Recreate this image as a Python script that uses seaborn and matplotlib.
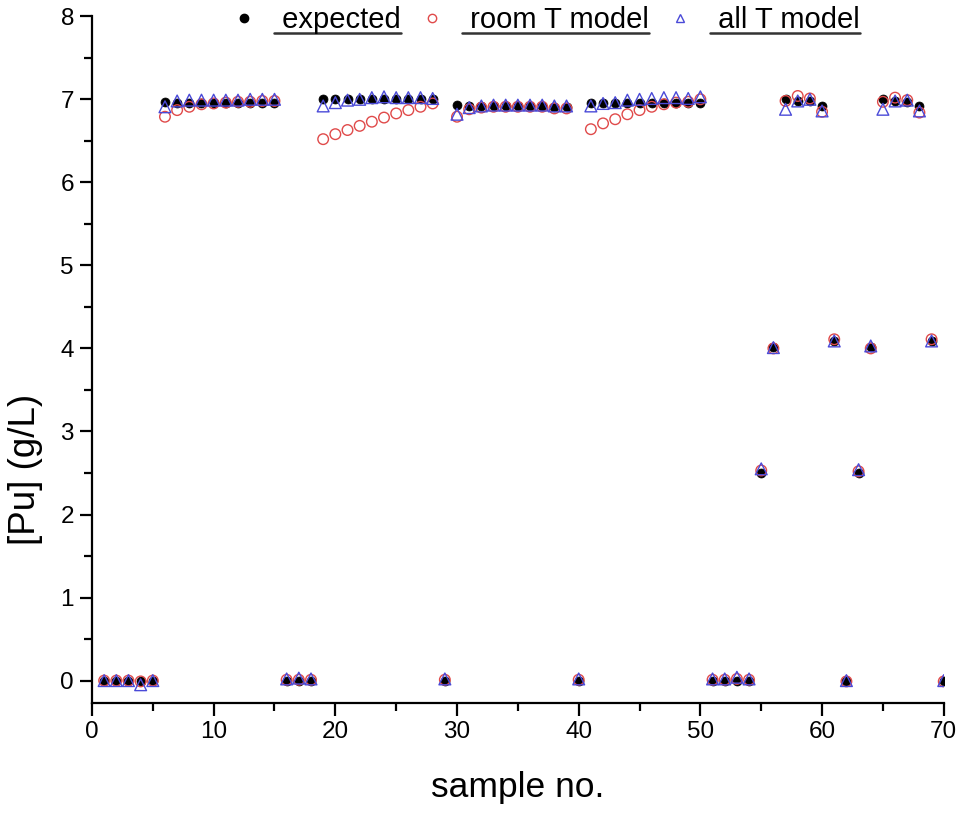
import matplotlib
matplotlib.use("Agg")
import matplotlib.pyplot as plt
from matplotlib.lines import Line2D
import seaborn as sns
import pandas as pd

sample_no = list(range(1, 71))

expected = [0, 0, 0, 0, 0,
            6.97, 6.96, 6.96, 6.96, 6.96, 6.96, 6.96, 6.96, 6.96, 6.96,
            0, 0, 0,
            7.00, 7.00, 7.00, 7.00, 7.00, 7.00, 7.00, 7.00, 7.00, 7.00,
            0,
            6.93, 6.92, 6.92, 6.92, 6.92, 6.92, 6.92, 6.92, 6.91, 6.91,
            0,
            6.95, 6.95, 6.95, 6.95, 6.95, 6.95, 6.95, 6.95, 6.95, 6.95,
            0, 0, 0, 0,
            2.50, 4.02, 7.00, 6.98, 6.98, 6.92, 4.09, 0, 2.50, 4.02,
            7.00, 6.98, 6.97, 6.92, 4.09, 0]

room_t_model = [0, 0, 0, -0.01, 0,
                6.79, 6.87, 6.91, 6.94, 6.95, 6.96, 6.97, 6.97, 6.98, 6.98,
                0.01, 0.01, 0.01,
                6.52, 6.58, 6.63, 6.68, 6.73, 6.78, 6.83, 6.87, 6.91, 6.95,
                0.01,
                6.79, 6.88, 6.90, 6.91, 6.91, 6.91, 6.91, 6.91, 6.89, 6.89,
                0.01,
                6.64, 6.71, 6.76, 6.82, 6.87, 6.91, 6.94, 6.96, 6.97, 7.00,
                0.01, 0.01, 0.02, 0.01,
                2.53, 4.00, 6.98, 7.04, 7.01, 6.85, 4.11, -0.01, 2.52, 4.00,
                6.97, 7.02, 6.99, 6.84, 4.11, -0.01]

all_t_model = [0, 0, 0, -0.05, 0,
               6.91, 6.98, 6.99, 6.99, 6.99, 6.99, 6.99, 7.00, 7.00, 7.00,
               0.02, 0.03, 0.02,
               6.92, 6.96, 6.99, 7.00, 7.02, 7.03, 7.02, 7.02, 7.02, 7.01,
               0.02,
               6.82, 6.90, 6.92, 6.93, 6.93, 6.93, 6.93, 6.93, 6.92, 6.92,
               0.02,
               6.92, 6.95, 6.96, 6.99, 7.00, 7.01, 7.02, 7.02, 7.01, 7.03,
               0.02, 0.02, 0.04, 0.02,
               2.55, 4.01, 6.88, 6.98, 7.00, 6.86, 4.09, 0.0, 2.54, 4.03,
               6.88, 6.98, 6.99, 6.86, 4.09, 0.0]

series_labels = ["expected", "room T model", "all T model"]
x_ticks = [0, 10, 20, 30, 40, 50, 60, 70]
y_ticks = [0, 1, 2, 3, 4, 5, 6, 7, 8]

df = pd.DataFrame({"sample": sample_no, "expected": expected,
                   "room": room_t_model, "all": all_t_model})

sns.set_style("ticks")
plt.rcParams["font.family"] = ["Liberation Sans", "DejaVu Sans"]
plt.rcParams["text.color"] = "black"
plt.rcParams["axes.labelcolor"] = "black"

BLACK = "#000000"
RED = "#e04a4a"
BLUE = "#4a4ad8"

fig = plt.figure(figsize=(9.64, 8.13), dpi=100)
ax = fig.add_axes([0.0954, 0.1353, 0.979 - 0.0954, 0.980 - 0.1353])

sns.scatterplot(data=df, x="sample", y="expected", ax=ax, marker="o", s=42,
                color=BLACK, edgecolor=BLACK, linewidth=0.5, zorder=2)
sns.scatterplot(data=df, x="sample", y="room", ax=ax, marker="o", s=58,
                color=RED, zorder=3)
ax.collections[-1].set_facecolor("none")
ax.collections[-1].set_edgecolor(RED)
ax.collections[-1].set_linewidth(1.0)
sns.scatterplot(data=df, x="sample", y="all", ax=ax, marker="^", s=72,
                color=BLUE, zorder=4)
ax.collections[-1].set_facecolor("none")
ax.collections[-1].set_edgecolor(BLUE)
ax.collections[-1].set_linewidth(1.0)

ax.set_xlim(0, 70)
ax.set_ylim(-0.27, 8)
ax.set_xticks(x_ticks)
ax.set_yticks(y_ticks)
ax.set_xticks([5, 15, 25, 35, 45, 55, 65], minor=True)
ax.set_yticks([0.5, 1.5, 2.5, 3.5, 4.5, 5.5, 6.5, 7.5], minor=True)
ax.tick_params(axis="both", which="major", length=9, width=1.6,
               direction="out", labelsize=17.5, color="black", labelcolor="black", pad=4)
ax.tick_params(axis="both", which="minor", length=5.5, width=1.6,
               direction="out", color="black")
sns.despine(ax=ax)
for sp in ["left", "bottom"]:
    ax.spines[sp].set_linewidth(1.6)
    ax.spines[sp].set_color("black")

ax.set_xlabel("sample no.", fontsize=25.5, labelpad=20)
ax.set_ylabel("[Pu] (g/L)", fontsize=26.5)
ax.yaxis.set_label_coords(-0.058, 0.34)
ax.grid(False)

handles = [
    Line2D([], [], linestyle="none", marker="o", markersize=6,
           markerfacecolor=BLACK, markeredgecolor=BLACK),
    Line2D([], [], linestyle="none", marker="o", markersize=6,
           markerfacecolor="none", markeredgecolor=RED, markeredgewidth=1.0),
    Line2D([], [], linestyle="none", marker="^", markersize=6,
           markerfacecolor="none", markeredgecolor=BLUE, markeredgewidth=1.0),
]
leg = fig.legend(handles, [" " + s for s in series_labels], ncol=3,
                 loc="center", bbox_to_anchor=(0.565, 0.975),
                 frameon=False, fontsize=21, handletextpad=0.55,
                 columnspacing=0.55, handlelength=1.0)

fig.canvas.draw()
renderer = fig.canvas.get_renderer()
inv = fig.transFigure.inverted()
for t in leg.get_texts():
    bb = t.get_window_extent(renderer)
    (x0, y0), (x1, y1) = inv.transform([[bb.x0, bb.y0], [bb.x1, bb.y1]])
    yline = y0 + 0.002
    fig.add_artist(Line2D([x0, x1], [yline, yline], transform=fig.transFigure,
                          color="#333333", linewidth=1.8))

fig.savefig("out.png", dpi=100)
